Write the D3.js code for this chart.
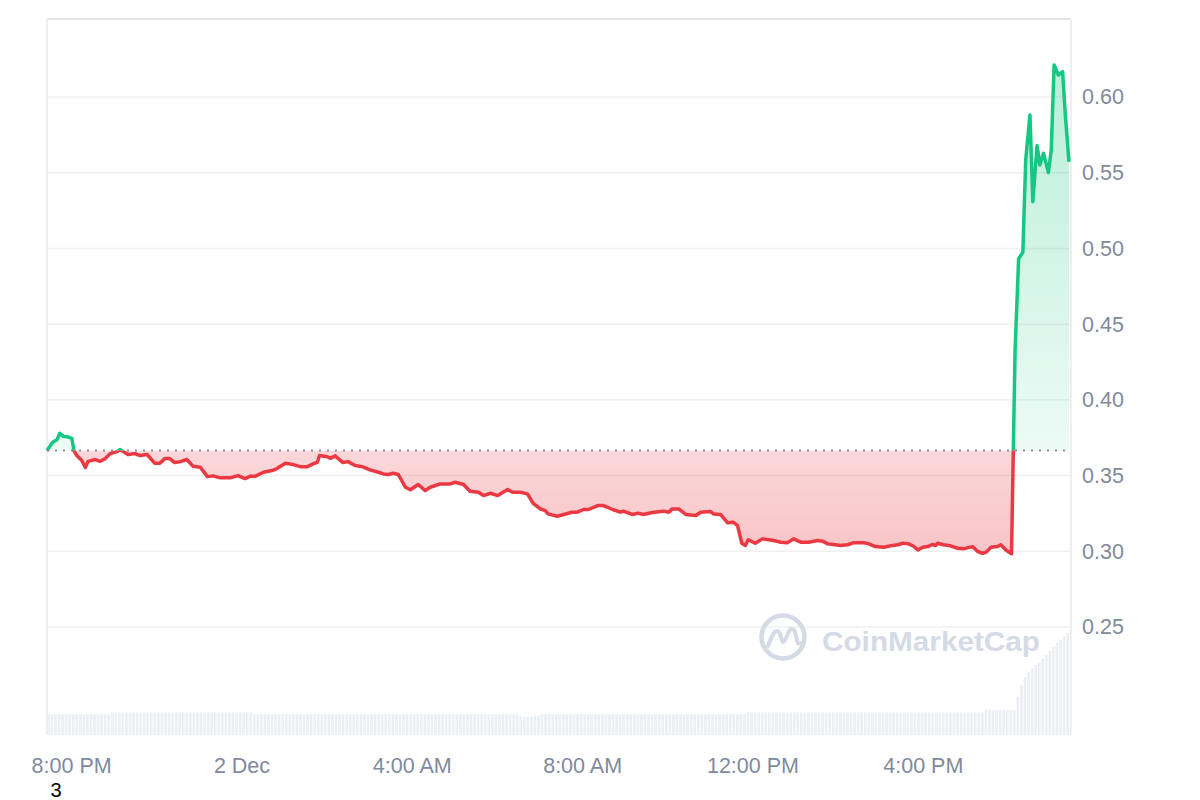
<!DOCTYPE html>
<html>
<head>
<meta charset="utf-8">
<script src="https://cdn.jsdelivr.net/npm/d3@7"></script>
<style>
  html, body { margin: 0; padding: 0; background: #fff; }
  svg { display: block; font-family: "Liberation Sans", Arial, sans-serif; }
</style>
</head>
<body>
<svg id="chart" width="1200" height="800"></svg>
<script>
// ---- data ----
const startTime = new Date(2024, 11, 1, 19, 26);
const minutes = [0,8,14,18,23,28,35,38,42,49,54,58,68,75,82,89,99,103,114,124,131,141,152,159,166,173,180,188,197,206,216,226,234,244,258,269,279,286,293,305,317,324,336,343,357,367,375,381,384,395,399,406,410,417,424,434,444,455,467,474,481,488,495,505,512,523,533,540,554,568,575,587,596,608,615,625,635,649,656,667,677,685,695,702,706,719,728,740,747,756,763,776,784,797,808,812,825,833,840,855,869,876,881,890,900,914,921,935,939,949,959,967,973,979,984,988,998,1008,1017,1024,1034,1043,1052,1062,1073,1086,1093,1100,1108,1118,1128,1136,1151,1158,1167,1179,1189,1199,1206,1214,1221,1227,1234,1241,1248,1252,1255,1263,1273,1283,1291,1304,1311,1318,1323,1330,1339,1344,1351,1359,1364,1369,1375,1379,1385,1389,1395,1399,1404,1411,1415,1419,1425,1431,1435,1440];
const prices = [0.3665,0.3720,0.3737,0.3779,0.3759,0.3757,0.3746,0.3665,0.3632,0.3599,0.3553,0.3594,0.3606,0.3594,0.3612,0.3645,0.3658,0.3672,0.3639,0.3645,0.3632,0.3639,0.3581,0.3581,0.3612,0.3612,0.3586,0.3592,0.3606,0.3561,0.3555,0.3493,0.3498,0.3485,0.3485,0.3500,0.3480,0.3495,0.3495,0.3522,0.3533,0.3546,0.3581,0.3577,0.3559,0.3559,0.3577,0.3588,0.3632,0.3625,0.3614,0.3630,0.3614,0.3586,0.3592,0.3566,0.3559,0.3538,0.3522,0.3511,0.3507,0.3515,0.3507,0.3423,0.3406,0.3441,0.3401,0.3423,0.3445,0.3445,0.3456,0.3441,0.3396,0.3390,0.3368,0.3383,0.3368,0.3408,0.3390,0.3390,0.3379,0.3317,0.3280,0.3269,0.3247,0.3231,0.3243,0.3258,0.3258,0.3276,0.3276,0.3302,0.3302,0.3276,0.3258,0.3265,0.3243,0.3252,0.3243,0.3258,0.3265,0.3258,0.3280,0.3280,0.3243,0.3236,0.3258,0.3262,0.3247,0.3243,0.3188,0.3192,0.3170,0.3053,0.3038,0.3076,0.3053,0.3082,0.3076,0.3071,0.3060,0.3056,0.3082,0.3060,0.3060,0.3071,0.3067,0.3049,0.3045,0.3038,0.3043,0.3056,0.3056,0.3049,0.3031,0.3027,0.3036,0.3043,0.3053,0.3049,0.3033,0.3009,0.3027,0.3031,0.3045,0.3038,0.3053,0.3043,0.3036,0.3020,0.3016,0.3031,0.3000,0.2987,0.2993,0.3027,0.3031,0.3043,0.3009,0.2984,0.4325,0.4932,0.4974,0.5584,0.5881,0.5309,0.5679,0.5551,0.5629,0.5501,0.5650,0.6211,0.6145,0.6167,0.5870,0.5571];

// 5-minute volume bars (relative units)
const volumes = [
20.7,20.7,20.7,20.7,20.7,20.7,20.7,20.7,20.7,20.7,20.7,20.7,20.7,20.7,20.7,20.7,20.7,20.7,
22.7,22.7,22.7,22.7,22.7,22.7,22.7,22.7,22.7,22.7,22.7,22.7,22.7,22.7,22.7,22.7,22.7,22.7,22.7,22.7,
22.7,22.7,22.7,22.7,22.7,22.7,22.7,22.7,22.7,22.7,22.7,22.7,22.7,22.7,22.7,22.7,22.7,22.7,22.7,22.7,
20.7,20.7,20.7,20.7,20.7,20.7,20.7,20.7,20.7,20.7,20.7,20.7,20.7,20.7,20.7,20.7,20.7,20.7,20.7,20.7,
20.7,20.7,20.7,20.7,20.7,20.7,20.7,20.7,20.7,20.7,20.7,20.7,20.7,20.7,20.7,20.7,20.7,20.7,20.7,20.7,
20.7,20.7,20.7,20.7,20.7,20.7,20.7,20.7,20.7,20.7,20.7,20.7,20.7,20.7,20.7,20.7,20.7,20.7,20.7,20.7,
20.7,20.7,20.7,20.7,20.7,20.7,20.7,20.7,20.7,20.7,20.7,20.7,20.7,20.7,20.7,
18.8,18.3,18.3,18.3,19.2,19.8,
20.7,20.7,20.7,20.7,20.7,20.7,20.7,20.7,20.7,20.7,20.7,20.7,20.7,20.7,20.7,20.7,20.7,20.7,20.7,20.7,
20.7,20.7,20.7,20.7,20.7,20.7,20.7,20.7,20.7,20.7,20.7,20.7,20.7,20.7,20.7,20.7,20.7,20.7,20.7,20.7,
20.7,20.7,20.7,20.7,20.7,20.7,20.7,20.7,20.7,20.7,20.7,20.7,20.7,20.7,20.7,20.7,20.7,20.7,
22.7,22.7,22.7,22.7,22.7,22.7,22.7,22.7,22.7,22.7,22.7,22.7,22.7,22.7,22.7,22.7,22.7,22.7,22.7,22.7,
22.7,22.7,22.7,22.7,22.7,22.7,22.7,22.7,22.7,22.7,22.7,22.7,22.7,22.7,22.7,22.7,22.7,22.7,22.7,22.7,
22.7,22.7,22.7,22.7,22.7,22.7,22.7,22.7,22.7,22.7,22.7,22.7,22.7,22.7,22.7,22.7,22.7,22.7,22.7,22.7,
22.7,22.7,22.7,22.7,22.7,22.7,22.7,
25,25,25,25,25,25,25,25,25,
38,50,58,63,67,70,73,76,80,84,88,92,95,99,102];

const yTicks = [0.25, 0.30, 0.35, 0.40, 0.45, 0.50, 0.55, 0.60];
const yTickLabels = ["0.25", "0.30", "0.35", "0.40", "0.45", "0.50", "0.55", "0.60"];
const xTicks = [new Date(2024,11,1,20,0), new Date(2024,11,2,0,0), new Date(2024,11,2,4,0),
                new Date(2024,11,2,8,0), new Date(2024,11,2,12,0), new Date(2024,11,2,16,0)];
const xTickLabels = ["8:00 PM", "2 Dec", "4:00 AM", "8:00 AM", "12:00 PM", "4:00 PM"];

// ---- layout ----
const L = 47, R = 1071, T = 19, B = 735;
const svg = d3.select("#chart");

const data = minutes.map((m, i) => ({ t: new Date(startTime.getTime() + m * 60000), v: prices[i] }));
const x = d3.scaleTime()
  .domain([startTime, new Date(startTime.getTime() + 1440 * 60000)])
  .range([L, 1069]);
const pxPerUnit = (627 - 97) / 0.35;
const y = d3.scaleLinear()
  .domain([0.25 - (B - 627) / pxPerUnit, 0.60 + (97 - T) / pxPerUnit])
  .range([B, T]);
const base = prices[0];
const yBase = y(base);

const defs = svg.append("defs");
defs.append("clipPath").attr("id", "clipAbove")
  .append("rect").attr("x", 0).attr("y", 0).attr("width", 1200).attr("height", yBase);
defs.append("clipPath").attr("id", "clipBelow")
  .append("rect").attr("x", 0).attr("y", yBase).attr("width", 1200).attr("height", 800 - yBase);

const gG = defs.append("linearGradient").attr("id", "gradGreen")
  .attr("gradientUnits", "userSpaceOnUse").attr("x1", 0).attr("x2", 0)
  .attr("y1", y(d3.max(prices))).attr("y2", yBase);
gG.append("stop").attr("offset", "0%").attr("stop-color", "#16c784").attr("stop-opacity", 0.3);
gG.append("stop").attr("offset", "100%").attr("stop-color", "#16c784").attr("stop-opacity", 0.08);
const gR = defs.append("linearGradient").attr("id", "gradRed")
  .attr("gradientUnits", "userSpaceOnUse").attr("x1", 0).attr("x2", 0)
  .attr("y1", yBase).attr("y2", y(d3.min(prices)));
gR.append("stop").attr("offset", "0%").attr("stop-color", "#ea3943").attr("stop-opacity", 0.2);
gR.append("stop").attr("offset", "100%").attr("stop-color", "#ea3943").attr("stop-opacity", 0.3);

// grid lines
svg.append("g").selectAll("line").data(yTicks).join("line")
  .attr("x1", L).attr("x2", R)
  .attr("y1", d => y(d)).attr("y2", d => y(d))
  .attr("stroke", "#eff0f2").attr("stroke-width", 1.5);

// frame
svg.append("line").attr("x1", L).attr("x2", R).attr("y1", T).attr("y2", T)
  .attr("stroke", "#e3e4e6").attr("stroke-width", 2);
svg.append("line").attr("x1", L).attr("x2", L).attr("y1", T).attr("y2", B)
  .attr("stroke", "#eeeff1").attr("stroke-width", 2);
svg.append("line").attr("x1", R).attr("x2", R).attr("y1", T).attr("y2", B)
  .attr("stroke", "#eeeff1").attr("stroke-width", 2);

// volume
const xb = d3.scaleBand().domain(d3.range(volumes.length)).range([L, 1069]).paddingInner(0.25);
const yv = d3.scaleLinear().domain([0, 100]).range([B, B - 100]);
svg.append("g").selectAll("rect").data(volumes).join("rect")
  .attr("x", (d, i) => xb(i)).attr("width", xb.bandwidth())
  .attr("y", d => yv(d)).attr("height", d => B - yv(d))
  .attr("fill", "#eceff3");

// watermark
const wm = svg.append("g").attr("fill", "none").attr("stroke", "#d5dbe6");
wm.append("circle").attr("cx", 783).attr("cy", 637).attr("r", 21.5).attr("stroke-width", 4.5);
wm.append("path")
  .attr("d", "M768,646 C772,636 775,628 779,632 C782,636 781,646 785,640 C789,632 790,626 794,630 C797,634 796,646 800,643")
  .attr("stroke-width", 4).attr("stroke-linecap", "round").attr("stroke-linejoin", "round");
svg.append("text").attr("x", 822).attr("y", 651)
  .attr("font-size", 28).attr("font-weight", 700).attr("fill", "#d5dbe6")
  .attr("textLength", 218).attr("lengthAdjust", "spacingAndGlyphs")
  .text("CoinMarketCap");

// areas
const area = d3.area().x(d => x(d.t)).y0(yBase).y1(d => y(d.v));
const line = d3.line().x(d => x(d.t)).y(d => y(d.v));
svg.append("path").datum(data).attr("d", area).attr("fill", "url(#gradGreen)").attr("clip-path", "url(#clipAbove)");
svg.append("path").datum(data).attr("d", area).attr("fill", "url(#gradRed)").attr("clip-path", "url(#clipBelow)");

// baseline dotted
svg.append("line").attr("x1", L).attr("x2", 1069).attr("y1", yBase).attr("y2", yBase)
  .attr("stroke", "#8b919b").attr("stroke-width", 2).attr("stroke-dasharray", "2,6");

// lines
svg.append("path").datum(data).attr("d", line).attr("fill", "none")
  .attr("stroke", "#16c784").attr("stroke-width", 3.5).attr("stroke-linejoin", "round")
  .attr("clip-path", "url(#clipAbove)");
svg.append("path").datum(data).attr("d", line).attr("fill", "none")
  .attr("stroke", "#ea3943").attr("stroke-width", 3.5).attr("stroke-linejoin", "round")
  .attr("clip-path", "url(#clipBelow)");

// y axis (right)
const yAxis = d3.axisRight(y).tickValues(yTicks).tickSize(0).tickPadding(0)
  .tickFormat((d, i) => yTickLabels[i]);
const gy = svg.append("g").attr("transform", `translate(1082,0)`).call(yAxis);
gy.select(".domain").remove();
gy.selectAll("text").attr("font-size", 21.5).attr("fill", "#808a9d")
  .attr("font-family", "'Liberation Sans', Arial, sans-serif").attr("x", 0);

// x axis
const xAxis = d3.axisBottom(x).tickValues(xTicks).tickSize(0).tickPadding(0)
  .tickFormat((d, i) => xTickLabels[i]);
const gx = svg.append("g").attr("transform", `translate(0,758)`).call(xAxis);
gx.select(".domain").remove();
gx.selectAll("text").attr("font-size", 21.5).attr("fill", "#808a9d")
  .attr("font-family", "'Liberation Sans', Arial, sans-serif");

// stray label
svg.append("text").attr("x", 56).attr("y", 797).attr("text-anchor", "middle")
  .attr("font-size", 20).attr("fill", "#000").text("3");
</script>
</body>
</html>
